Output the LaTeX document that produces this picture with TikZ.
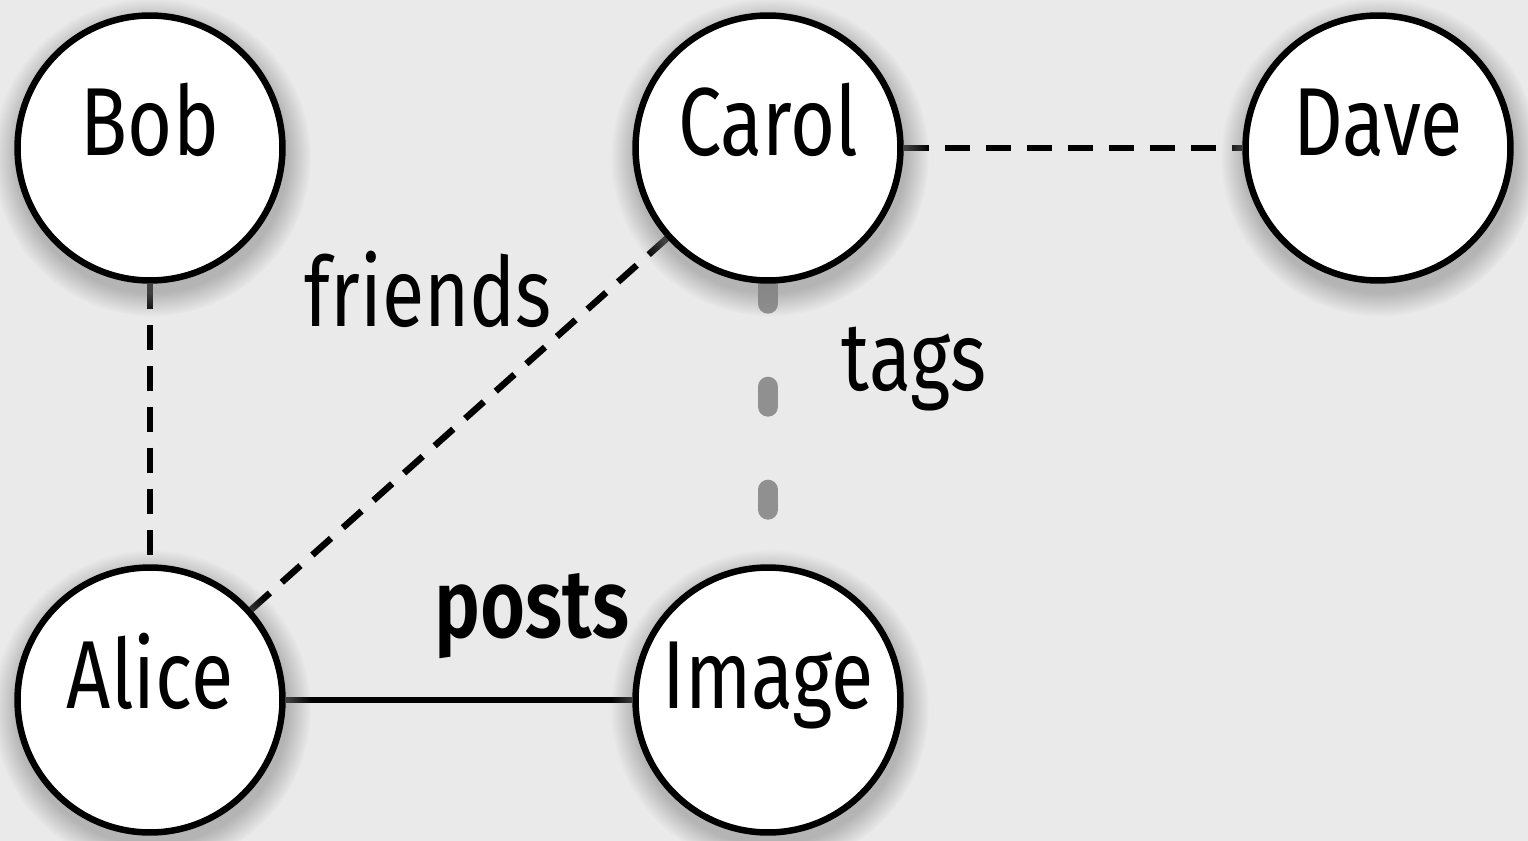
\documentclass[tikz,border=0pt]{standalone}
\usepackage{fontspec}
\setmainfont{Fira Sans}[FakeStretch=0.8, BoldFont={Fira Sans SemiBold}]
\usetikzlibrary{shadows}
\definecolor{canvas}{HTML}{EAEAEA}
\definecolor{taggray}{HTML}{909090}
\pgfdeclarelayer{edges}
\pgfsetlayers{edges,main}

\begin{document}
\begin{tikzpicture}[x=0.02cm, y=-0.02cm,
    every node/.style={font=\fontsize{55}{60}\selectfont},
    person/.style={circle, draw, line width=0.13cm, fill=white, minimum size=5.3cm,
      inner sep=0pt, text height=0.8cm, text depth=0.48cm,
      circular drop shadow={shadow xshift=0.03cm, shadow yshift=-0.15cm, opacity=0.5, shadow scale=1.2}},
    rel/.style={line width=0.13cm},
    friend/.style={rel, dash pattern=on 0.5cm off 0.32cm},
    tagline/.style={draw=taggray, line width=0.4cm, line cap=round, dash pattern=on 0.4cm off 1.66cm}]
  \useasboundingbox (0,0) rectangle (1528,841);
  \node[person] (bob) at (150,148) {Bob};
  \node[person] (carol) at (768,148) {Carol};
  \node[person] (dave) at (1378,148) {Dave};
  \node[person] (alice) at (150,700) {Alice};
  \node[person] (image) at (768,700) {Image};
  \begin{pgfonlayer}{edges}
    \fill[canvas] (0,0) rectangle (1528,841);
    \draw[friend] (bob) -- (alice);
    \draw[friend] (alice) -- (carol) node[pos=0.74, anchor=south east, inner sep=2pt] {friends};
    \draw[friend] (carol.east) -- (dave.west);
    \draw[rel] (alice) -- (image) node[pos=0.98, anchor=base east, xshift=0.14cm, yshift=1.26cm, inner sep=0pt, font=\fontsize{55}{60}\selectfont\bfseries] {posts};
    \draw[tagline] (carol) -- (image) node[pos=0.38, anchor=base west, xshift=1.28cm, inner sep=0pt] {tags};
  \end{pgfonlayer}
\end{tikzpicture}
\end{document}
